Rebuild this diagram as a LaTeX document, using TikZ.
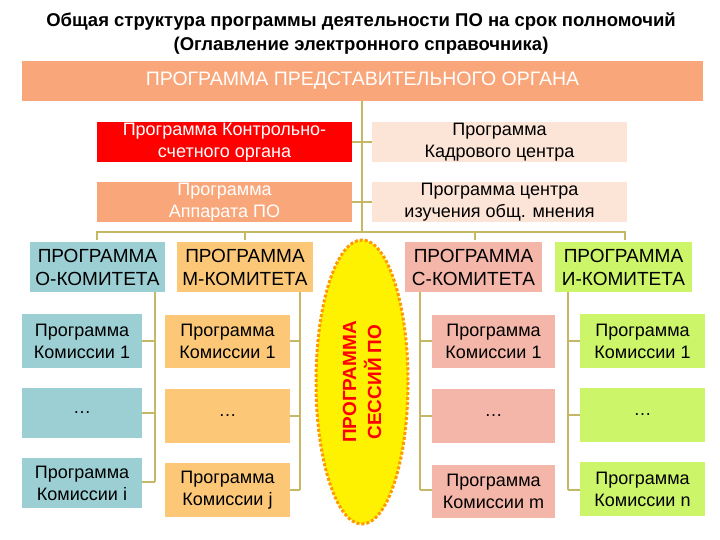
\documentclass[tikz,border=0pt]{standalone}
\usepackage{fontspec}
\setmainfont{Liberation Sans}
\begin{document}
\begin{tikzpicture}[x=1pt,y=-1pt,
  bx/.style={inner sep=0pt,align=center,font=\fontsize{18}{22}\selectfont},
  cmhead/.style={inner sep=0pt,align=center,font=\fontsize{19}{23}\selectfont},
  hd/.style={inner sep=0pt,align=center,font=\bfseries\fontsize{19}{25}\selectfont}]
\definecolor{top}{HTML}{F9A77A}
\definecolor{pale}{HTML}{FCE4D6}
\definecolor{teal}{HTML}{9BCFD4}
\definecolor{morg}{HTML}{FCC878}
\definecolor{pink}{HTML}{F4B6A8}
\definecolor{lime}{HTML}{CCF56A}
\definecolor{lc}{HTML}{C4B866}
\useasboundingbox (0,0) rectangle (720,540);
\fill[white] (0,0) rectangle (720,540);
\node[font=\bfseries\fontsize{18.5}{24}\selectfont,align=center] (title) at (361,34) {Общая структура программы деятельности ПО на срок полномочий\\(Оглавление электронного справочника)};
% connectors
\draw[lc,line width=1.5pt] (362,101) -- (362,232) (352,142)--(372,142) (352,202)--(372,202);
\draw[lc,line width=1.5pt] (97,240)--(97,232)--(625,232)--(625,240) (245,232)--(245,240) (475,232)--(475,240);
\draw[lc,line width=1.5pt] (155,292)--(155,482) (142,341)--(155,341) (142,413)--(155,413) (142,482)--(155,482);
\draw[lc,line width=1.5pt] (300,292)--(300,490) (290,341)--(300,341) (290,416)--(300,416) (290,490)--(300,490);
\draw[lc,line width=1.5pt] (420,292)--(420,490) (420,341)--(432,341) (420,416)--(432,416) (420,490)--(432,490);
\draw[lc,line width=1.5pt] (568,292)--(568,490) (568,341)--(580,341) (568,415)--(580,415) (568,490)--(580,490);
% top
\node[fill=top,minimum width=681,minimum height=40,inner sep=0pt,text=white,font=\fontsize{19.5}{22}\selectfont] (prog) at (362.5,81) {ПРОГРАММА ПРЕДСТАВИТЕЛЬНОГО ОРГАНА};
\node[bx,fill=red,text=white,minimum width=255,minimum height=40] (kso) at (224.5,142) {Программа Контрольно-\\счетного органа};
\node[bx,fill=pale,minimum width=255,minimum height=40] (kadr) at (499.5,142) {Программа\\Кадрового центра};
\node[bx,fill=top,text=white,minimum width=255,minimum height=40] (app) at (224.5,202) {Программа\\Аппарата ПО};
\node[bx,fill=pale,minimum width=255,minimum height=40] (czn) at (499.5,202) {Программа центра\\изучения общ. мнения};
% committees
\node[cmhead,fill=teal,minimum width=135,minimum height=50] (o) at (97.5,267) {ПРОГРАММА\\О-КОМИТЕТА};
\node[cmhead,fill=morg,minimum width=136,minimum height=50] (m) at (245,267) {ПРОГРАММА\\М-КОМИТЕТА};
\node[cmhead,fill=pink,minimum width=137,minimum height=50] (c) at (473.5,267) {ПРОГРАММА\\С-КОМИТЕТА};
\node[cmhead,fill=lime,minimum width=137,minimum height=50] (i) at (623.5,267) {ПРОГРАММА\\И-КОМИТЕТА};
% commissions
\node[bx,fill=teal,minimum width=120,minimum height=54] (o1) at (82,341) {Программа\\Комиссии 1};
\node[bx,fill=teal,minimum width=120,minimum height=50] (o2) at (82,413) {\dots};
\node[bx,fill=teal,minimum width=120,minimum height=50] (o3) at (82,483) {Программа\\Комиссии i};
\node[bx,fill=morg,minimum width=125,minimum height=53] (m1) at (227.5,341.5) {Программа\\Комиссии 1};
\node[bx,fill=morg,minimum width=125,minimum height=54] (m2) at (227.5,416) {\dots};
\node[bx,fill=morg,minimum width=125,minimum height=54] (m3) at (227.5,490) {Программа\\Комиссии j};
\node[bx,fill=pink,minimum width=123,minimum height=53] (c1) at (493.5,341.5) {Программа\\Комиссии 1};
\node[bx,fill=pink,minimum width=123,minimum height=54] (c2) at (493.5,416) {\dots};
\node[bx,fill=pink,minimum width=123,minimum height=53] (c3) at (493.5,491.5) {Программа\\Комиссии m};
\node[bx,fill=lime,minimum width=125,minimum height=54] (i1) at (642.5,341) {Программа\\Комиссии 1};
\node[bx,fill=lime,minimum width=125,minimum height=54] (i2) at (642.5,415) {\dots};
\node[bx,fill=lime,minimum width=125,minimum height=54] (i3) at (642.5,489) {Программа\\Комиссии n};
% ellipse
\filldraw[fill=yellow,draw=orange!80!yellow,line width=3pt,dash pattern=on 3pt off 2pt] (362,382) ellipse [x radius=46,y radius=142];
\node[hd,text=red,rotate=90] (ses) at (362,382) {ПРОГРАММА\\СЕССИЙ ПО};
\end{tikzpicture}
\end{document}
